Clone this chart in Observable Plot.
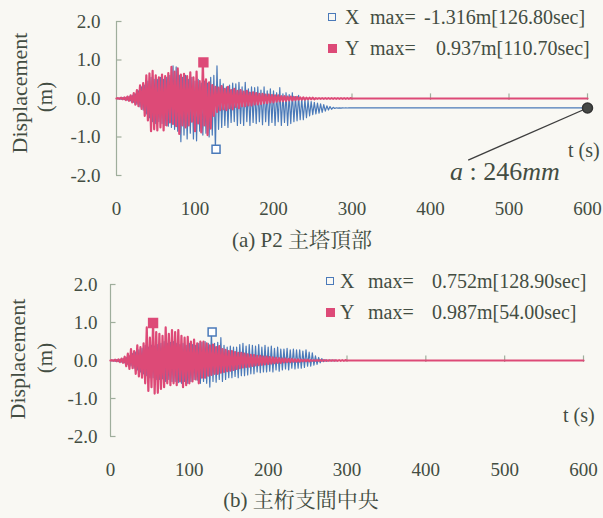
<!DOCTYPE html>
<html><head><meta charset="utf-8">
<script src="https://cdn.jsdelivr.net/npm/d3@7"></script>
<script src="https://cdn.jsdelivr.net/npm/@observablehq/plot@0.6"></script>
<style>
html,body{margin:0;padding:0;background:#f9f8f3;}
#root{position:relative;width:603px;height:518px;overflow:hidden;background:#f9f8f3;font-family:"Liberation Serif","Noto Serif CJK JP",serif;color:#434d42;}
#root svg{position:absolute;left:0;}
#root svg text{font-family:"Liberation Serif",serif !important;font-size:19px !important;}
.t{position:absolute;white-space:pre;line-height:1;}
</style></head>
<body><div id="root"></div>
<script>
// ---- data (sampled every 2 s from t = 0 to 300 s) ----
const tStep = 2;
const tailT = [400, 500, 600];
const xTicks = [0, 100, 200, 300, 400, 500, 600];
const yTicks = [-2, -1, 0, 1, 2];

// (a) P2 tower top, X direction
const aX = [
 0, -0.01, 0.01, -0.02, 0.02, -0.03, 0.03, -0.04, 0.05, -0.06,
 0.08, -0.1, 0.12, -0.15, 0.2, -0.22, 0.3, -0.3, 0.35, -0.4,
 0.45, -0.5, 0.55, -0.6, 0.5, -0.65, 0.5, -0.6, 0.55, -0.65,
 0.5, -0.7, 0.55, -0.72, 0.6, -0.75, 0.85, -0.8, 0.82, -0.85,
 0.6, -1.12, 0.55, -0.95, 0.6, -1.05, 0.5, -0.9, 0.55, -1.05,
 0.45, -1.1, 0.5, -0.85, 0.4, -0.95, 0.45, -0.9, 0.4, -1.0,
 0.55, -0.95, 0.6, -1.316, 0.85, -0.8, 0.5, -0.75, 0.38, -0.7,
 0.3, -0.75, 0.35, -0.62, 0.4, -0.6, 0.38, -0.7, 0.42, -0.65,
 0.3, -0.7, 0.42, -0.6, 0.25, -0.7, 0.3, -0.62, 0.28, -0.65,
 0.3, -0.6, 0.22, -0.68, 0.3, -0.6, 0.2, -0.7, 0.25, -0.62,
 0.2, -0.7, 0.15, -0.6, 0.28, -0.7, 0.12, -0.62, 0.15, -0.7,
 0.1, -0.65, 0.15, -0.6, 0.05, -0.58, 0.08, -0.55, 0.0, -0.55,
 -0.02, -0.5, -0.05, -0.45, -0.08, -0.42, -0.1, -0.4, -0.12, -0.38,
 -0.14, -0.36, -0.16, -0.33, -0.19, -0.3, -0.21, -0.28, -0.23, -0.26,
 -0.24, -0.25, -0.245, -0.25, -0.245, -0.247, -0.245, -0.247, -0.246, -0.246, -0.246
];
const aXTail = [-0.246, -0.246, -0.246];

// (a) P2 tower top, Y direction
const aY = [
 0, 0.01, -0.01, 0.02, -0.02, 0.03, -0.04, 0.05, -0.06, 0.08,
 -0.1, 0.14, -0.16, 0.22, -0.2, 0.34, -0.27, 0.4, -0.45, 0.6,
 -0.57, 0.65, -0.85, 0.72, -0.8, 0.6, -0.83, 0.55, -0.75, 0.62,
 -0.83, 0.58, -0.7, 0.66, -0.62, 0.82, -0.66, 0.7, -0.72, 0.78,
 -0.92, 0.62, -0.7, 0.64, -0.75, 0.58, -0.7, 0.68, -0.6, 0.55,
 -0.85, 0.7, -0.65, 0.45, -0.88, 0.937, -0.7, 0.5, -0.95, 0.42,
 -0.78, 0.35, -0.45, 0.3, -0.35, 0.28, -0.3, 0.32, -0.28, 0.25,
 -0.3, 0.3, -0.25, 0.22, -0.28, 0.25, -0.22, 0.2, -0.25, 0.22,
 -0.2, 0.18, -0.2, 0.2, -0.18, 0.15, -0.18, 0.16, -0.15, 0.14,
 -0.15, 0.12, -0.14, 0.12, -0.12, 0.1, -0.12, 0.1, -0.1, 0.09,
 -0.1, 0.08, -0.08, 0.08, -0.07, 0.06, -0.07, 0.06, -0.06, 0.05,
 -0.05, 0.05, -0.05, 0.04, -0.04, 0.04, -0.03, 0.03, -0.03, 0.03,
 -0.03, 0.02, -0.02, 0.02, -0.02, 0.02, -0.02, 0.01, -0.01, 0.01,
 -0.01, 0.01, -0.01, 0.01, -0.01, 0.01, -0.01, 0.01, -0.01, 0.01,
 -0.01, 0.01, -0.01, 0.01, -0.01, 0.01, -0.01, 0.01, -0.01, 0.01, 0
];
const aYTail = [0, 0, 0];

// (b) main girder mid-span, X direction
const bX = [
 0, -0.01, 0.01, -0.02, 0.02, -0.03, 0.03, -0.04, 0.05, -0.06,
 0.08, -0.1, 0.12, -0.14, 0.18, -0.2, 0.22, -0.25, 0.28, -0.3,
 0.32, -0.35, 0.4, -0.4, 0.35, -0.45, 0.4, -0.45, 0.38, -0.5,
 0.42, -0.5, 0.45, -0.48, 0.5, -0.55, 0.45, -0.5, 0.48, -0.55,
 0.5, -0.55, 0.45, -0.58, 0.42, -0.6, 0.45, -0.55, 0.4, -0.6,
 0.45, -0.55, 0.42, -0.5, 0.4, -0.52, 0.45, -0.6, 0.48, -0.55,
 0.5, -0.6, 0.45, -0.7, 0.752, -0.55, 0.45, -0.57, 0.48, -0.5,
 0.6, -0.55, 0.4, -0.5, 0.35, -0.45, 0.38, -0.45, 0.35, -0.42,
 0.35, -0.45, 0.42, -0.4, 0.45, -0.4, 0.38, -0.38, 0.42, -0.35,
 0.4, -0.35, 0.38, -0.3, 0.42, -0.32, 0.35, -0.3, 0.4, -0.3,
 0.35, -0.28, 0.38, -0.3, 0.32, -0.25, 0.35, -0.28, 0.3, -0.25,
 0.3, -0.22, 0.32, -0.25, 0.28, -0.2, 0.3, -0.22, 0.28, -0.2,
 0.28, -0.2, 0.25, -0.18, 0.28, -0.15, 0.22, -0.15, 0.2, -0.12,
 0.12, -0.1, 0.08, -0.06, 0.05, -0.03, 0.02, -0.02, 0.01, -0.01,
 0.01, -0.01, 0.01, -0.01, 0, 0, 0, 0, 0, 0, 0
];
const bXTail = [0, 0, 0];

// (b) main girder mid-span, Y direction
const bY = [
 0, 0.01, -0.01, 0.02, -0.02, 0.03, -0.04, 0.05, -0.06, 0.1,
 -0.15, 0.18, -0.22, 0.3, -0.2, 0.25, -0.35, 0.4, -0.42, 0.35,
 -0.45, 0.45, -0.6, 0.87, -0.8, 0.6, -0.7, 0.987, -0.87, 0.75,
 -0.85, 0.7, -0.75, 0.65, -0.7, 0.87, -0.6, 0.7, -0.65, 0.8,
 -0.6, 0.75, -0.65, 0.8, -0.55, 0.65, -0.7, 0.6, -0.65, 0.62,
 -0.6, 0.5, -0.55, 0.55, -0.5, 0.45, -0.6, 0.5, -0.45, 0.5,
 -0.45, 0.45, -0.4, 0.4, -0.38, 0.42, -0.35, 0.35, -0.35, 0.38,
 -0.32, 0.3, -0.3, 0.28, -0.28, 0.25, -0.27, 0.25, -0.25, 0.22,
 -0.22, 0.2, -0.2, 0.2, -0.18, 0.18, -0.17, 0.16, -0.16, 0.15,
 -0.14, 0.14, -0.13, 0.12, -0.12, 0.12, -0.11, 0.1, -0.1, 0.1,
 -0.09, 0.09, -0.08, 0.08, -0.07, 0.07, -0.06, 0.06, -0.06, 0.05,
 -0.05, 0.05, -0.04, 0.04, -0.04, 0.04, -0.03, 0.03, -0.03, 0.03,
 -0.03, 0.02, -0.02, 0.02, -0.02, 0.02, -0.02, 0.01, -0.01, 0.01,
 -0.01, 0.01, -0.01, 0.01, -0.01, 0.01, -0.01, 0.01, -0.01, 0.01,
 -0.01, 0.01, -0.01, 0.01, -0.01, 0.01, -0.01, 0.01, -0.01, 0.01, 0
];
const bYTail = [0, 0, 0];

// peak markers
const aMaxX = [{t: 126.8, v: -1.316}];
const aMaxY = [{t: 110.7, v: 0.937}];
const bMaxX = [{t: 128.9, v: 0.752}];
const bMaxY = [{t: 54.0, v: 0.987}];

// legend texts
const aLegend = [["X", "-1.316m[126.80sec]"], ["Y", "0.937m[110.70sec]"]];
const bLegend = [["X", "0.752m[128.90sec]"], ["Y", "0.987m[54.00sec]"]];
const captions = ["(a) P2 主塔頂部", "(b) 主桁支間中央"];
// residual displacement annotation
const residual = [{t: 600, v: -0.246, lt: 448, lv: -1.6}];

// ---- drawing ----
const BLUE = "#4b7ab9", PINK = "#dd4a77", AX = "#9fae9c", TXT = "#434d42";
const series = (vals, tail) => vals.map((v, i) => ({t: i * tStep, v})).concat(tail.map((v, i) => ({t: tailT[i], v})));

function panel(X, Y, XT, YT, maxX, maxY, m, extra) {
  return Plot.plot({
    width: 603, height: 220,
    marginLeft: m.l, marginRight: m.r, marginTop: m.t, marginBottom: m.b,
    x: {domain: [0, 600]},
    y: {domain: [-2, 2]},
    style: {background: "transparent", fontFamily: "'Liberation Serif', serif", fontSize: "19px", color: TXT},
    marks: [
      Plot.axisX(xTicks, {tickSize: 0, tickPadding: m.xp, label: null, tickFormat: d => String(d), fill: TXT}),
      Plot.axisY(yTicks, {tickSize: 0, tickPadding: m.yp, label: null, tickFormat: d => d.toFixed(1), fill: TXT}),
      Plot.ruleX([0], {y1: -2, y2: 2, stroke: AX, strokeWidth: 1.2}),
      Plot.ruleY(yTicks, {x1: 0, x2: 7, stroke: AX, strokeWidth: 1.2}),
      Plot.ruleY([0], {x1: 0, x2: 600, stroke: AX, strokeWidth: 1.2}),
      Plot.ruleX(xTicks.filter(d => d > 0), {y1: -0.05, y2: 0.12, stroke: AX, strokeWidth: 1.2}),
      Plot.line(series(X, XT), {x: "t", y: "v", stroke: BLUE, strokeWidth: 1.2}),
      Plot.line(series(Y, YT), {x: "t", y: "v", stroke: PINK, strokeWidth: 2.2}),
      Plot.dot(maxX, {x: "t", y: "v", symbol: "square", r: 4.5, stroke: BLUE, fill: "#ffffff", strokeWidth: 1.5}),
      Plot.dot(maxY, {x: "t", y: "v", symbol: "square", r: 5, stroke: PINK, fill: PINK}),
      ...extra
    ]
  });
}

const root = document.getElementById("root");
const svgA = panel(aX, aY, aXTail, aYTail, aMaxX, aMaxY, {l: 116, r: 16, t: 21, b: 45, xp: 26, yp: 16}, [
  Plot.link(residual, {x1: "t", y1: "v", x2: "lt", y2: "lv", stroke: "#3e3e3e", strokeWidth: 1.3}),
  Plot.dot(residual, {x: "t", y: "v", r: 5, fill: "#454845", stroke: "#333"})
]);
svgA.style.top = "0px";
root.appendChild(svgA);
const svgB = panel(bX, bY, bXTail, bYTail, bMaxX, bMaxY, {l: 110, r: 20, t: 22, b: 46, xp: 26, yp: 13}, []);
svgB.style.top = "262px";
root.appendChild(svgB);

function txt(s, x, y, o = {}) {
  const e = document.createElement("div");
  e.className = "t";
  if (o.html) e.innerHTML = s; else e.textContent = s;
  e.style.left = x + "px"; e.style.top = y + "px";
  e.style.fontSize = (o.size || 20) + "px";
  e.style.transform = (o.center ? "translate(-50%,-50%)" : "translate(0,-50%)") + (o.rot ? " rotate(-90deg)" : "");
  root.appendChild(e);
  return e;
}
function sq(x, y, filled, color) {
  const e = document.createElement("div");
  e.style.cssText = `position:absolute;left:${x - 4}px;top:${y - 4}px;width:${filled ? 9 : 6}px;height:${filled ? 9 : 6}px;` +
    (filled ? `background:${color};` : `border:1.5px solid ${color};`);
  root.appendChild(e);
}

// y-axis titles
txt("Displacement", 20, 93, {center: true, rot: true, size: 22});
txt("(m)", 45, 97, {center: true, rot: true, size: 21});
txt("Displacement", 18, 359, {center: true, rot: true, size: 22});
txt("(m)", 45, 358, {center: true, rot: true, size: 21});

// legends
const legendRows = [
  {leg: aLegend, y: [17, 48], sx: 332, nx: 345, mx: 370, vx: [424, 436]},
  {leg: bLegend, y: [281, 312], sx: 330, nx: 340, mx: 368, vx: [432, 432]}
];
legendRows.forEach(L => {
  L.leg.forEach((r, i) => {
    sq(L.sx, L.y[i], i === 1, i === 1 ? PINK : BLUE);
    txt(r[0], L.nx, L.y[i]);
    txt("max=", L.mx, L.y[i]);
    txt(r[1], L.vx[i], L.y[i]);
  });
});

// axis titles t (s)
txt("t (s)", 568, 150, {size: 20});
txt("t (s)", 563, 415, {size: 20});

// residual annotation
txt('<i>a</i> : 246<i>mm</i>', 450, 172, {html: true, size: 26});

// captions
txt(captions[0], 302, 240, {center: true, size: 21});
txt(captions[1], 301, 500, {center: true, size: 21});
</script></body></html>
